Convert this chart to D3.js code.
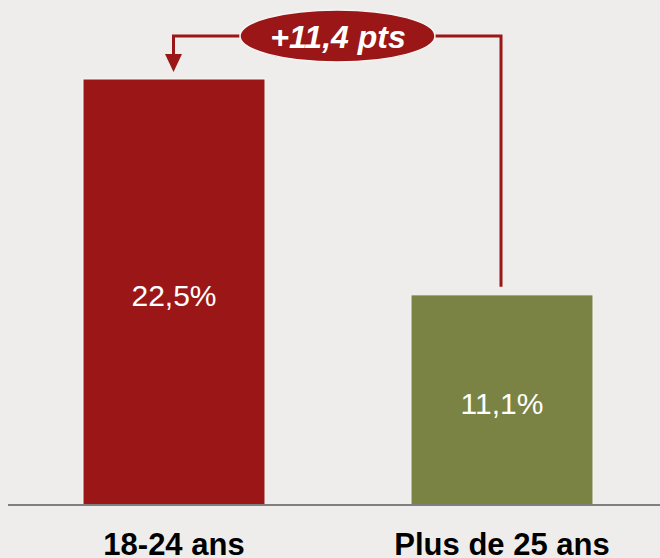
<!DOCTYPE html>
<html>
<head>
<meta charset="utf-8">
<script src="https://cdn.jsdelivr.net/npm/d3@7"></script>
<style>
  body { margin: 0; background: #efedeb; }
  svg { display: block; font-family: "Liberation Sans", Arial, sans-serif; }
</style>
</head>
<body>
<script>
var categories = ["18-24 ans", "Plus de 25 ans"];
var values = [22.5, 11.1];
var valueLabels = ["22,5%", "11,1%"];
var barColors = ["#9b1717", "#7a8343"];
var gapLabel = "+11,4 pts";

var width = 660, height = 558;
var baseY = 505;

var svg = d3.select("body").append("svg")
    .attr("width", width)
    .attr("height", height);

svg.append("rect")
    .attr("width", width).attr("height", height)
    .attr("fill", "#efedeb");

var x = d3.scaleOrdinal()
    .domain(categories)
    .range([83, 411]);
var barWidth = 182;

var y = d3.scaleLinear()
    .domain([0, 22.5])
    .range([baseY, 79]);

// bars
svg.selectAll("rect.bar").data(values).enter()
    .append("rect")
    .attr("class", "bar")
    .attr("x", function(d, i) { return x(categories[i]); })
    .attr("y", function(d) { return y(d); })
    .attr("width", barWidth)
    .attr("height", function(d) { return baseY - y(d); })
    .attr("fill", function(d, i) { return barColors[i]; })
    .attr("stroke", "#f7f5f2")
    .attr("stroke-width", 1);

// baseline
svg.append("line")
    .attr("x1", 8).attr("x2", width)
    .attr("y1", baseY).attr("y2", baseY)
    .attr("stroke", "#7f7f7f")
    .attr("stroke-width", 2);

// value labels
svg.selectAll("text.val").data(values).enter()
    .append("text")
    .attr("class", "val")
    .attr("x", function(d, i) { return x(categories[i]) + barWidth / 2; })
    .attr("y", function(d) { return (y(d) + baseY) / 2 + 14; })
    .attr("text-anchor", "middle")
    .attr("fill", "#ffffff")
    .attr("font-size", 30)
    .text(function(d, i) { return valueLabels[i]; });

// category labels
svg.selectAll("text.cat").data(categories).enter()
    .append("text")
    .attr("class", "cat")
    .attr("x", function(d) { return x(d) + barWidth / 2; })
    .attr("y", 555)
    .attr("text-anchor", "middle")
    .attr("fill", "#000")
    .attr("font-weight", "bold")
    .attr("font-size", 31)
    .text(function(d) { return d; });

// gap connector
var lineY = 36;
var leftX = x(categories[0]) + barWidth / 2 - 0.5;
var rightX = x(categories[1]) + barWidth / 2 - 1;
var red = "#9b1717";

svg.append("path")
    .attr("d", "M" + rightX + "," + (y(values[1]) - 8) + "V" + lineY + "H" + leftX + "V" + (y(values[0]) - 22))
    .attr("fill", "none")
    .attr("stroke", red)
    .attr("stroke-width", 3);

svg.append("path")
    .attr("d", "M" + (leftX - 8.5) + "," + (y(values[0]) - 25) + "L" + (leftX + 8.5) + "," + (y(values[0]) - 25) + "L" + leftX + "," + (y(values[0]) - 7) + "Z")
    .attr("fill", red);

svg.append("ellipse")
    .attr("cx", 337.5).attr("cy", lineY)
    .attr("rx", 97.5).attr("ry", 26)
    .attr("fill", red)
    .attr("stroke", "#f7f5f2")
    .attr("stroke-width", 1.5);

svg.append("text")
    .attr("x", 338).attr("y", 48)
    .attr("text-anchor", "middle")
    .attr("fill", "#ffffff")
    .attr("font-weight", "bold")
    .attr("font-style", "italic")
    .attr("font-size", 32)
    .text(gapLabel);
</script>
</body>
</html>
